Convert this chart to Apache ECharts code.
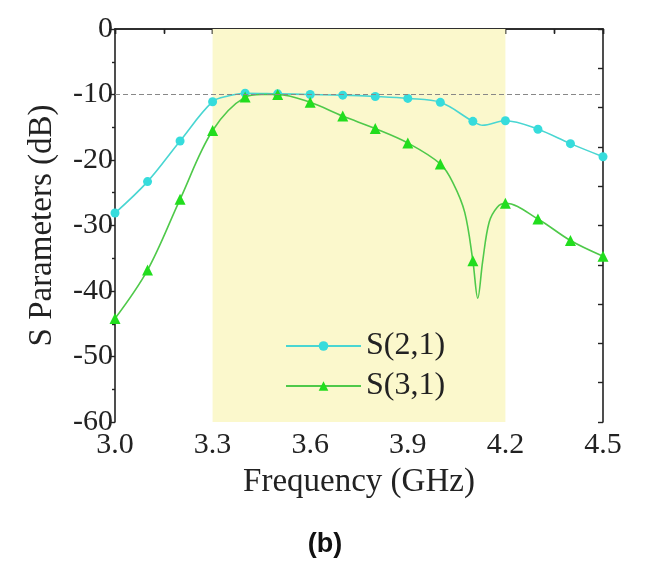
<!DOCTYPE html>
<html>
<head>
<meta charset="utf-8">
<script src="https://cdn.jsdelivr.net/npm/echarts@6/dist/echarts.min.js"></script>
<style>html,body{margin:0;padding:0;background:#fff;}#c{width:650px;height:571px;}</style>
</head>
<body>
<div id="c"></div>
<script>
// Marker frequencies (GHz)
const markerFreq = [3.0, 3.1, 3.2, 3.3, 3.4, 3.5, 3.6, 3.7, 3.8, 3.9, 4.0, 4.1, 4.2, 4.3, 4.4, 4.5];
// S(2,1) values at marker frequencies (dB)
const s21Marked = [-28.1, -23.3, -17.1, -11.1, -9.8, -9.9, -10.0, -10.1, -10.3, -10.6, -11.2, -14.1, -14.0, -15.3, -17.5, -19.5];
// S(3,1) values at marker frequencies (dB)
const s31Marked = [-44.2, -36.8, -26.0, -15.5, -10.4, -10.0, -11.2, -13.3, -15.2, -17.4, -20.6, -35.4, -26.6, -29.0, -32.3, -34.7];
// Extra curve points read between markers (no marker drawn)
const s21ExtraFreq = [3.35, 4.13];
const s21ExtraVal = [-10.2, -14.7];
const s31ExtraFreq = [3.45, 4.04, 4.075, 4.115, 4.13, 4.15, 4.175];
const s31ExtraVal = [-10.0, -23.6, -28.0, -41.1, -35.5, -29.5, -27.2];
// Axis ticks
const xTicks = ['3.0', '3.3', '3.6', '3.9', '4.2', '4.5'];
const yTicks = ['0', '-10', '-20', '-30', '-40', '-50', '-60'];
// Highlighted band and reference level
const band = [3.3, 4.2];
const refLevel = -10;

function build(fr, vals, exF, exV) {
  const pts = [];
  fr.forEach((f, i) => pts.push({ value: [f, vals[i]] }));
  exF.forEach((f, i) => pts.push({ value: [f, exV[i]], symbol: 'none' }));
  pts.sort((a, b) => a.value[0] - b.value[0]);
  return pts;
}

const serif = 'Liberation Serif';
const chart = echarts.init(document.getElementById('c'));
chart.setOption({
  animation: false,
  backgroundColor: '#fff',
  grid: { left: 115, right: 47, top: 29, bottom: 149 },
  legend: {
    orient: 'vertical', left: 280, top: 325, itemWidth: 75, itemHeight: 12, itemGap: 8,
    textStyle: { fontFamily: serif, fontSize: 32, color: '#222' },
    data: ['S(2,1)', 'S(3,1)']
  },
  xAxis: [{
    type: 'value', min: 3.0, max: 4.5, interval: 0.3,
    name: 'Frequency (GHz)', nameLocation: 'middle', nameGap: 44,
    nameTextStyle: { fontFamily: serif, fontSize: 33, color: '#222' },
    axisLine: { lineStyle: { color: '#222', width: 1.6 } },
    axisTick: { show: true, length: 5, lineStyle: { color: '#222', width: 1.4 } },
    minorTick: { show: true, splitNumber: 2, length: 4, lineStyle: { color: '#222', width: 1.4 } },
    axisLabel: { fontFamily: serif, fontSize: 30, color: '#222', margin: 8,
      formatter: v => { const s = v.toFixed(1); return xTicks.includes(s) ? s : ''; } },
    splitLine: { show: false }
  }, {
    type: 'value', min: 3.0, max: 4.5, interval: 0.15, position: 'top',
    axisLine: { show: true, lineStyle: { color: '#222', width: 1.6 } },
    axisTick: { show: true, inside: true, length: 5, lineStyle: { color: '#222', width: 1.4 } },
    axisLabel: { show: false }, splitLine: { show: false }
  }],
  yAxis: [{
    type: 'value', min: -60, max: 0, interval: 10,
    name: 'S Parameters (dB)', nameLocation: 'middle', nameGap: 56, nameRotate: 90,
    nameTextStyle: { fontFamily: serif, fontSize: 33, color: '#222' },
    axisLine: { show: true, lineStyle: { color: '#222', width: 1.6 } },
    axisTick: { show: true, length: 6, lineStyle: { color: '#222', width: 1.4 } },
    minorTick: { show: true, splitNumber: 2, length: 3, lineStyle: { color: '#222', width: 1.4 } },
    axisLabel: { fontFamily: serif, fontSize: 30, color: '#222', margin: 2,
      formatter: v => { const s = String(Math.round(v)); return yTicks.includes(s) ? s : ''; } },
    splitLine: { show: false }
  }, {
    type: 'value', min: -60, max: 0, interval: 6, position: 'right',
    axisLine: { show: true, lineStyle: { color: '#222', width: 1.6 } },
    axisTick: { show: true, inside: true, length: 5, lineStyle: { color: '#222', width: 1.4 } },
    axisLabel: { show: false }, splitLine: { show: false }
  }],
  series: [{
    name: 'S(2,1)', type: 'line', smooth: 0.35, z: 3,
    data: build(markerFreq, s21Marked, s21ExtraFreq, s21ExtraVal),
    symbol: 'circle', symbolSize: 9, showAllSymbol: true,
    lineStyle: { color: '#49d6d2', width: 1.6 },
    itemStyle: { color: '#36dcdc' },
    markArea: { silent: true, itemStyle: { color: '#fbf8cc' },
      data: [[{ xAxis: band[0] }, { xAxis: band[1] }]] },
    markLine: { silent: true, symbol: 'none', label: { show: false },
      lineStyle: { color: '#888', type: [5, 3], width: 1 },
      data: [{ yAxis: refLevel }] }
  }, {
    name: 'S(3,1)', type: 'line', smooth: 0.35, z: 4,
    data: build(markerFreq, s31Marked, s31ExtraFreq, s31ExtraVal),
    symbol: 'triangle', symbolSize: 11, showAllSymbol: true,
    lineStyle: { color: '#4fc94a', width: 1.6 },
    itemStyle: { color: '#22dd1e' }
  }],
  graphic: [{
    type: 'text', left: 'center', top: 531,
    style: { text: '(b)', font: 'bold 27px "Liberation Sans"', fill: '#111' }
  }]
});
</script>
</body>
</html>
